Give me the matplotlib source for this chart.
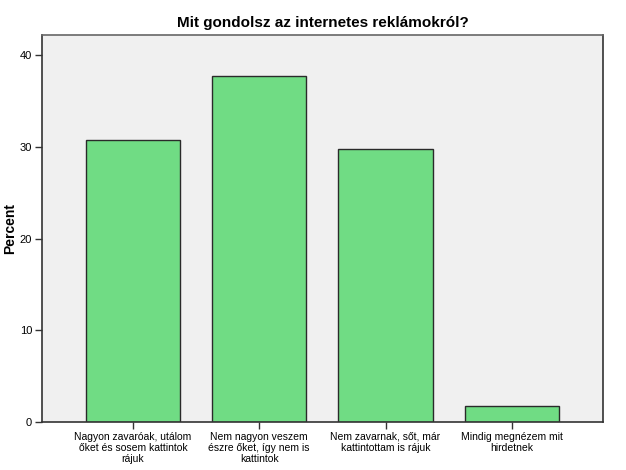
import matplotlib
matplotlib.use("Agg")
import matplotlib.pyplot as plt

plt.rcParams['font.family'] = ['Liberation Sans', 'DejaVu Sans']

# data
categories = [
    "Nagyon zavaróak, utálom\nőket és sosem kattintok\nrájuk",
    "Nem nagyon veszem\nészre őket, így nem is\nkattintok",
    "Nem zavarnak, sőt, már\nkattintottam is rájuk",
    "Mindig megnézem mit\nhirdetnek",
]
percent = [30.7, 37.7, 29.8, 1.8]
yticks = [0, 10, 20, 30, 40]

fig = plt.figure(figsize=(6.26, 4.70), dpi=100)
ax = fig.add_axes([0.067, 0.102, 0.896, 0.8235])
ax.set_facecolor("#f0f0f0")

x = range(len(categories))
ax.bar(x, percent, width=0.745, color="#70dc84", edgecolor="#2a2a2a", linewidth=1.0, zorder=2)

ax.set_xlim(-0.72, 3.72)
ax.set_ylim(0, 42.2)
ax.set_xticks(list(x))
ax.set_xticklabels(categories, fontsize=7.5, linespacing=1.15)
ax.set_yticks(yticks)
ax.set_yticklabels([str(t) for t in yticks], fontsize=8)
ax.tick_params(axis="both", direction="out", length=5, width=1, color="#333333", pad=2)

for side in ["left", "bottom", "top", "right"]:
    ax.spines[side].set_color("#333333")
    ax.spines[side].set_linewidth(1.2)
ax.spines["top"].set_color("#666666")

ax.set_ylabel("Percent", fontsize=10, fontweight="bold", labelpad=2)
ax.set_title("Mit gondolsz az internetes reklámokról?", fontsize=11, fontweight="bold", pad=6)

fig.savefig("out.png", dpi=100)
